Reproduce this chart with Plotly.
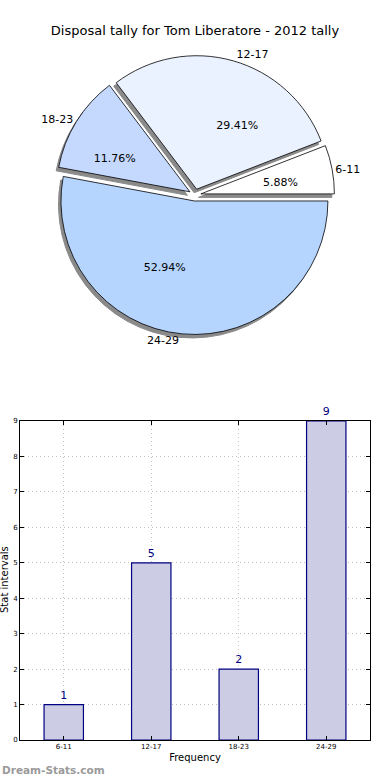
import plotly.graph_objects as go

categories = ["6-11", "12-17", "18-23", "24-29"]
counts = [1, 5, 2, 9]
pie_colors = ["#FFFFFF", "#EAF1FF", "#C5D9FF", "#B5D5FF"]
title_text = "Disposal tally for Tom Liberatore - 2012 tally"

FONT = "DejaVu Sans"
pull = [0.045] * len(categories)
# matplotlib-style: first slice starts at 3 o'clock, going counterclockwise
rotation = 90 - 360 * counts[0] / sum(counts)
pie_dom_x = [0.02, 0.98]
pie_dom_y = [0.548, 0.925]
pct_dom_y = [0.6475, 0.8255]
sx, sy = -2.5 / 350, -3.5 / 740

common = dict(labels=categories, values=counts, sort=False, direction="counterclockwise",
              rotation=rotation, pull=pull, showlegend=False)

fig = go.Figure()
# shadow
fig.add_trace(go.Pie(
    **common, marker=dict(colors=["#8a8a8a"] * 4, line=dict(color="#8a8a8a", width=1)),
    textinfo="none", hoverinfo="skip",
    domain=dict(x=[pie_dom_x[0] + sx, pie_dom_x[1] + sx], y=[pie_dom_y[0] + sy, pie_dom_y[1] + sy]),
))
# main pie
fig.add_trace(go.Pie(
    **common, marker=dict(colors=pie_colors, line=dict(color="black", width=0.8)),
    textinfo="none",
    domain=dict(x=pie_dom_x, y=pie_dom_y),
))
# transparent overlay for outside labels
fig.add_trace(go.Pie(
    **common, marker=dict(colors=["rgba(0,0,0,0)"] * 4, line=dict(width=0)),
    texttemplate="%{label}", textposition="outside",
    textfont=dict(family=FONT, size=11, color="black"), hoverinfo="skip",
    domain=dict(x=pie_dom_x, y=pie_dom_y),
))
# small transparent pie: its outside text sits at ~0.6 radius of the main pie
fig.add_trace(go.Pie(
    **common, marker=dict(colors=["rgba(0,0,0,0)"] * 4, line=dict(width=0)),
    texttemplate="%{percent:.2%}", textposition="outside",
    textfont=dict(family=FONT, size=11, color="black"), hoverinfo="skip",
    domain=dict(x=pie_dom_x, y=pct_dom_y),
))

fig.add_trace(go.Bar(
    x=categories, y=counts, width=0.45,
    marker=dict(color="#CCCCE5", line=dict(color="#000080", width=1.2)),
    text=[str(c) for c in counts], textposition="outside",
    textfont=dict(family=FONT, size=11, color="#000080"),
    cliponaxis=False, showlegend=False, xaxis="x", yaxis="y",
))

grid = dict(showgrid=True, gridcolor="#c0c0c0", griddash="1px,3px", gridwidth=1)
fig.update_layout(
    width=390, height=780,
    margin=dict(l=20, r=20, t=0, b=40, autoexpand=False),
    paper_bgcolor="white", plot_bgcolor="white",
    font=dict(family=FONT, color="black"),
    title=dict(text=title_text, x=0.5, xref="container", xanchor="center", y=1 - 30 / 780,
               yref="container", yanchor="middle",
               font=dict(family=FONT, size=13, color="black")),
    xaxis=dict(domain=[0, 1], range=[-0.5, 3.5], showline=True, linecolor="black", linewidth=1,
               mirror="ticks", ticks="inside", ticklen=4, tickcolor="black", automargin=False,
               tickfont=dict(family=FONT, size=7, color="black"),
               title=dict(text="Frequency", font=dict(family=FONT, size=10), standoff=3), **grid),
    yaxis=dict(domain=[0, (740 - 421) / 740], range=[0, 9], showline=True, linecolor="black",
               linewidth=1, mirror="ticks", ticks="inside", ticklen=4, tickcolor="black",
               dtick=1, zeroline=False, automargin=False,
               tickfont=dict(family=FONT, size=7, color="black"), **grid),
    annotations=[
        dict(text="Stat intervals", xref="paper", yref="paper", x=(4 - 20) / 350,
             y=(740 - 580) / 740, xanchor="center", yanchor="middle", textangle=-90,
             showarrow=False, font=dict(family=FONT, size=10, color="black")),
        dict(text="<b>Dream-Stats.com</b>", xref="paper", yref="paper",
             x=-20 / 350, y=-30 / 740, xanchor="left", yanchor="middle", showarrow=False,
             font=dict(family=FONT, size=10.5, color="#9a9a9a")),
    ],
)

fig.write_html("out.html", config={"displayModeBar": False},
               post_script="document.body.style.margin='0';")
